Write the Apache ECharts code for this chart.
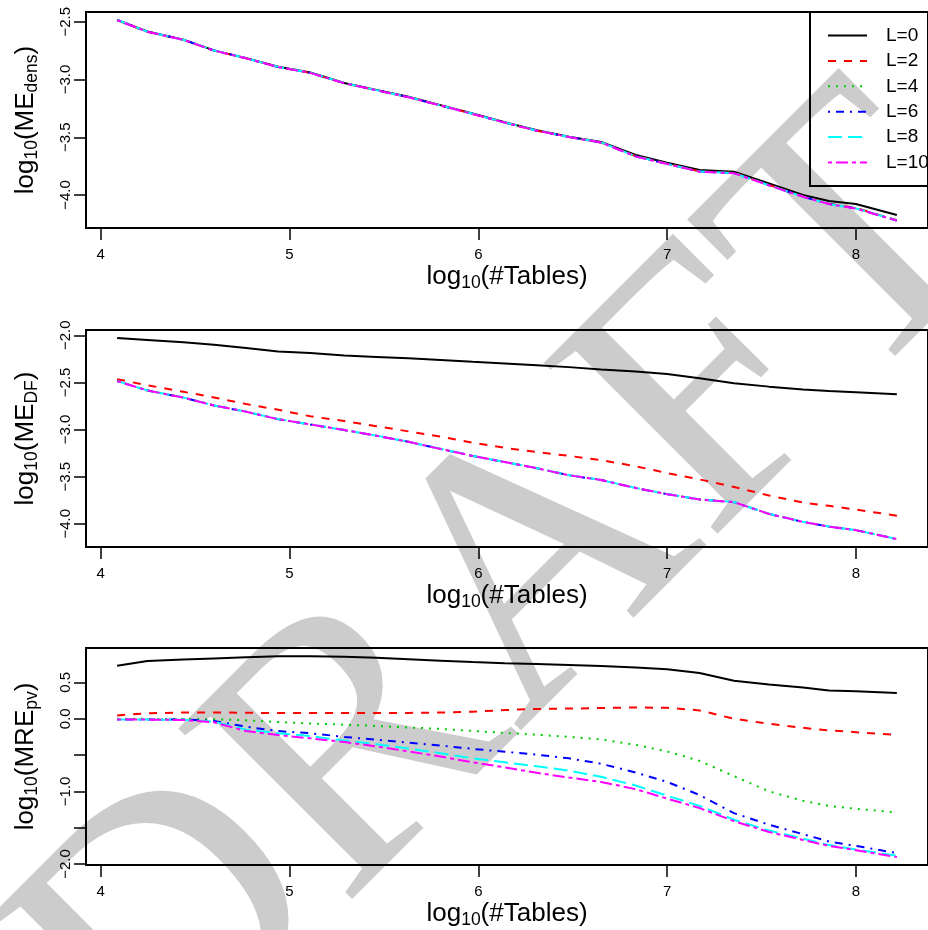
<!DOCTYPE html>
<html>
<head>
<meta charset="utf-8">
<script src="https://cdn.jsdelivr.net/npm/echarts@6/dist/echarts.min.js"></script>
<style>
html,body{margin:0;padding:0;background:#fff;}
#chart{width:928px;height:930px;}
</style>
</head>
<body>
<div id="chart"></div>
<script>
// log10(#Tables)
const xVals = [4.087, 4.247, 4.438, 4.6, 4.77, 4.94, 5.11, 5.29, 5.46, 5.63, 5.8, 5.97, 6.14, 6.31, 6.48, 6.65, 6.834, 7.0, 7.172, 7.354, 7.54, 7.72, 7.857, 8.0, 8.217];
const seriesNames = ['L=0', 'L=2', 'L=4', 'L=6', 'L=8', 'L=10'];
const xTicks = [4, 5, 6, 7, 8];

// Panel 1: log10(ME_dens)
const dens_L0  = [-2.485,-2.585,-2.655,-2.748,-2.815,-2.89,-2.94,-3.03,-3.09,-3.15,-3.222,-3.295,-3.37,-3.44,-3.495,-3.54,-3.653,-3.72,-3.784,-3.798,-3.90,-4.00,-4.051,-4.077,-4.172];
const dens_L2  = [-2.486,-2.587,-2.657,-2.75,-2.817,-2.892,-2.943,-3.032,-3.093,-3.153,-3.225,-3.298,-3.373,-3.443,-3.498,-3.545,-3.663,-3.728,-3.795,-3.808,-3.912,-4.012,-4.074,-4.112,-4.217];
const dens_L4  = [-2.485,-2.586,-2.656,-2.749,-2.816,-2.891,-2.942,-3.031,-3.092,-3.152,-3.224,-3.297,-3.372,-3.442,-3.497,-3.544,-3.664,-3.729,-3.796,-3.809,-3.914,-4.013,-4.076,-4.114,-4.22];
const dens_L6  = [-2.486,-2.586,-2.657,-2.749,-2.816,-2.892,-2.942,-3.032,-3.092,-3.153,-3.224,-3.298,-3.372,-3.443,-3.497,-3.545,-3.665,-3.73,-3.797,-3.81,-3.915,-4.014,-4.077,-4.115,-4.221];
const dens_L8  = [-2.485,-2.586,-2.656,-2.749,-2.816,-2.891,-2.942,-3.031,-3.092,-3.152,-3.224,-3.297,-3.372,-3.442,-3.497,-3.544,-3.665,-3.73,-3.797,-3.81,-3.915,-4.014,-4.077,-4.115,-4.221];
const dens_L10 = [-2.486,-2.587,-2.657,-2.75,-2.817,-2.892,-2.943,-3.032,-3.093,-3.153,-3.225,-3.298,-3.373,-3.443,-3.498,-3.545,-3.666,-3.731,-3.798,-3.811,-3.916,-4.015,-4.078,-4.116,-4.222];

// Panel 2: log10(ME_DF)
const df_L0  = [-2.03,-2.05,-2.075,-2.10,-2.135,-2.172,-2.188,-2.215,-2.23,-2.245,-2.262,-2.282,-2.30,-2.318,-2.338,-2.362,-2.385,-2.41,-2.455,-2.51,-2.545,-2.575,-2.592,-2.605,-2.627];
const df_L2  = [-2.467,-2.53,-2.60,-2.66,-2.73,-2.79,-2.86,-2.91,-2.965,-3.02,-3.075,-3.14,-3.195,-3.24,-3.28,-3.325,-3.39,-3.462,-3.53,-3.61,-3.70,-3.775,-3.81,-3.85,-3.915];
const df_L4  = [-2.485,-2.585,-2.66,-2.745,-2.81,-2.89,-2.945,-3.005,-3.065,-3.13,-3.205,-3.28,-3.345,-3.41,-3.485,-3.535,-3.62,-3.685,-3.742,-3.77,-3.895,-3.98,-4.03,-4.067,-4.162];
const df_L6  = [-2.486,-2.586,-2.661,-2.746,-2.811,-2.891,-2.946,-3.006,-3.066,-3.131,-3.206,-3.281,-3.346,-3.411,-3.486,-3.536,-3.621,-3.686,-3.743,-3.771,-3.896,-3.981,-4.031,-4.068,-4.163];
const df_L8  = [-2.485,-2.585,-2.66,-2.745,-2.81,-2.89,-2.945,-3.005,-3.065,-3.13,-3.205,-3.28,-3.345,-3.41,-3.485,-3.535,-3.62,-3.685,-3.742,-3.77,-3.895,-3.98,-4.03,-4.067,-4.162];
const df_L10 = [-2.486,-2.586,-2.661,-2.746,-2.811,-2.891,-2.946,-3.006,-3.066,-3.131,-3.206,-3.281,-3.346,-3.411,-3.486,-3.536,-3.621,-3.686,-3.743,-3.771,-3.896,-3.981,-4.031,-4.068,-4.163];

// Panel 3: log10(MRE_pv)
const pv_L0  = [0.73,0.795,0.815,0.83,0.845,0.86,0.86,0.852,0.84,0.82,0.80,0.78,0.765,0.752,0.74,0.725,0.707,0.68,0.63,0.523,0.47,0.43,0.39,0.38,0.354];
const pv_L2  = [0.046,0.075,0.085,0.087,0.082,0.078,0.078,0.078,0.078,0.08,0.086,0.097,0.12,0.135,0.14,0.147,0.155,0.15,0.115,0.0,-0.07,-0.125,-0.161,-0.185,-0.222];
const pv_L4  = [0.0,-0.002,-0.003,-0.008,-0.022,-0.045,-0.065,-0.082,-0.10,-0.12,-0.14,-0.168,-0.195,-0.22,-0.25,-0.285,-0.36,-0.45,-0.58,-0.79,-1.0,-1.13,-1.2,-1.24,-1.29];
const pv_L6  = [-0.01,-0.01,-0.01,-0.03,-0.11,-0.17,-0.20,-0.25,-0.29,-0.33,-0.37,-0.415,-0.455,-0.495,-0.545,-0.62,-0.74,-0.87,-1.05,-1.30,-1.46,-1.59,-1.69,-1.75,-1.85];
const pv_L8  = [-0.01,-0.012,-0.015,-0.04,-0.15,-0.20,-0.24,-0.30,-0.35,-0.41,-0.475,-0.545,-0.60,-0.655,-0.715,-0.80,-0.92,-1.06,-1.20,-1.39,-1.54,-1.65,-1.74,-1.80,-1.887];
const pv_L10 = [-0.01,-0.012,-0.018,-0.05,-0.17,-0.225,-0.27,-0.32,-0.38,-0.45,-0.52,-0.60,-0.67,-0.745,-0.81,-0.87,-0.97,-1.10,-1.23,-1.41,-1.56,-1.67,-1.75,-1.81,-1.905];

const panel1 = [dens_L0, dens_L2, dens_L4, dens_L6, dens_L8, dens_L10];
const panel2 = [df_L0, df_L2, df_L4, df_L6, df_L8, df_L10];
const panel3 = [pv_L0, pv_L2, pv_L4, pv_L6, pv_L8, pv_L10];

const yTicks1 = [-4.0, -3.5, -3.0, -2.5];
const yTicks2 = [-4.0, -3.5, -3.0, -2.5, -2.0];
const yTicks3 = [-2.0, -1.5, -1.0, -0.5, 0.0, 0.5];
const yLabels3 = [-2.0, -1.0, 0.0, 0.5];

const colors = ['#000000', '#FF0000', '#00CD00', '#0000FF', '#00FFFF', '#FF00FF'];
const dashes = ['solid', [8, 8], [2, 6], [2, 6, 8, 6], [14, 6], [4, 4, 12, 4]];

const FONT = 'Liberation Sans';
const chart = echarts.init(document.getElementById('chart'), null, {renderer: 'canvas'});

const grids = [
  {left: 86, top: 12, width: 854, height: 216},
  {left: 86, top: 330, width: 854, height: 217},
  {left: 86, top: 648, width: 854, height: 217}
].map(g => Object.assign(g, {show: true, borderColor: '#000', borderWidth: 2, backgroundColor: 'transparent', containLabel: false}));

const rich = {
  m: {fontSize: 26, fontFamily: FONT, color: '#000', lineHeight: 30},
  s: {fontSize: 17.5, fontFamily: FONT, color: '#000', lineHeight: 15, verticalAlign: 'bottom'}
};

function fmt(v) { return v.toFixed(1).replace('-', '\u2212'); }

function xAxis(i) {
  return {
    type: 'value', gridIndex: i, min: 3.922, max: 8.382,
    name: '{m|log}{s|10}{m|(#Tables)}', nameLocation: 'middle', nameGap: 34,
    nameTextStyle: {rich: rich},
    axisLine: {show: false, onZero: false},
    axisTick: {show: true, length: 12, inside: false, customValues: xTicks, lineStyle: {color: '#000', width: 1.5}},
    axisLabel: {show: true, customValues: xTicks, margin: 19, fontSize: 15, fontFamily: FONT, color: '#000', formatter: v => String(v)},
    splitLine: {show: false}
  };
}
function yAxis(i, min, max, ticks, labels, title) {
  return {
    type: 'value', gridIndex: i, min: min, max: max,
    name: title, nameLocation: 'middle', nameGap: 45, nameRotate: 90,
    nameTextStyle: {rich: rich},
    axisLine: {show: false, onZero: false},
    axisTick: {show: true, length: 12, customValues: ticks, lineStyle: {color: '#000', width: 1.5}},
    axisLabel: {show: true, customValues: labels, rotate: 90, margin: 13, fontSize: 15, fontFamily: FONT, color: '#000', formatter: fmt},
    splitLine: {show: false}
  };
}

const series = [];
[panel1, panel2, panel3].forEach((panel, p) => {
  panel.forEach((vals, k) => {
    series.push({
      name: seriesNames[k], type: 'line', xAxisIndex: p, yAxisIndex: p,
      symbol: 'none', showSymbol: false, smooth: false,
      lineStyle: {color: colors[k], width: 2, type: dashes[k]},
      itemStyle: {color: colors[k]},
      data: xVals.map((x, j) => [x, vals[j]]),
      z: 3 + k
    });
  });
});

chart.setOption({
  animation: false,
  backgroundColor: '#fff',
  grid: grids,
  xAxis: [xAxis(0), xAxis(1), xAxis(2)],
  yAxis: [
    yAxis(0, -4.285, -2.416, yTicks1, yTicks1, '{m|log}{s|10}{m|(ME}{s|dens}{m|)}'),
    yAxis(1, -4.247, -1.944, yTicks2, yTicks2, '{m|log}{s|10}{m|(ME}{s|DF}{m|)}'),
    yAxis(2, -2.014, 0.974, yTicks3, yLabels3, '{m|log}{s|10}{m|(MRE}{s|pv}{m|)}')
  ],
  legend: {
    show: true, orient: 'vertical', left: 810, top: 12,
    data: seriesNames,
    borderColor: '#000', borderWidth: 2, borderRadius: 0,
    padding: [14, 20, 14, 17],
    itemWidth: 39, itemHeight: 19, itemGap: 6.4,
    selectedMode: false,
    itemStyle: {opacity: 0, borderWidth: 0},
    textStyle: {fontSize: 19, fontFamily: FONT, color: '#000', padding: [0, 0, 0, 14]}
  },
  graphic: [{
    type: 'text', z: -10, zlevel: 0, silent: true,
    x: 515, y: 598, rotation: Math.PI / 4,
    style: {text: 'DRAFT', fill: '#cccccc', font: '372px "Liberation Serif"', textAlign: 'center', textVerticalAlign: 'middle'}
  }],
  series: series
});
</script>
</body>
</html>
